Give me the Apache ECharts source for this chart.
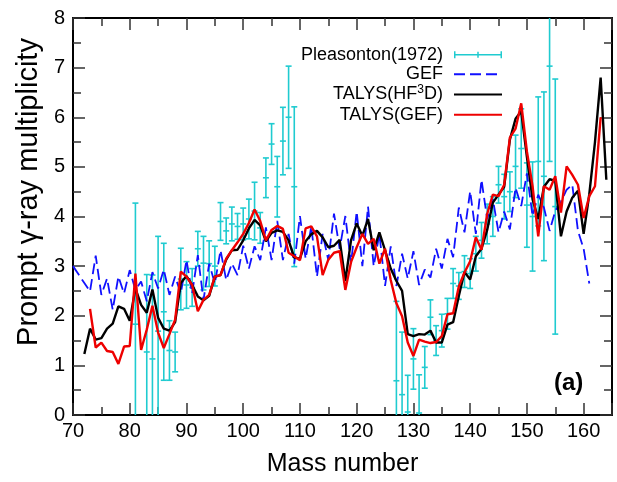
<!DOCTYPE html>
<html><head><meta charset="utf-8">
<script src="https://cdn.jsdelivr.net/npm/echarts@6/dist/echarts.min.js"></script>
<style>html,body{margin:0;padding:0;background:#fff}#c{width:617px;height:482px}</style>
</head><body><div id="c"></div>
<script>
// ---- data ----
const gefMass = [70,71,72,73,74,75,76,77,78,79,80,81,82,83,84,85,86,87,88,89,90,91,92,93,94,95,96,97,98,99,100,101,102,103,104,105,106,107,108,109,110,111,112,113,114,115,116,117,118,119,120,121,122,123,124,125,126,127,128,129,130,131,132,133,134,135,136,137,138,139,140,141,142,143,144,145,146,147,148,149,150,151,152,153,154,155,156,157,158,159,160,161];
const gefValues = [3.0,2.83,2.66,2.49,3.21,2.42,2.75,2.12,2.79,2.45,2.92,2.52,2.69,2.29,2.88,2.55,2.93,2.42,2.79,2.45,3.12,2.45,3.22,2.32,3.05,2.65,3.32,2.72,3.05,2.82,3.41,2.95,3.4,3.12,3.78,3.12,3.91,3.12,3.65,3.05,4.01,3.15,3.8,2.79,3.65,3.12,4.06,3.35,4.01,3.05,4.1,3.0,4.2,3.0,3.65,2.6,3.4,2.6,3.25,2.75,3.3,2.62,2.93,2.77,3.35,2.95,3.55,3.18,4.18,3.68,4.51,3.65,4.74,3.95,4.35,3.68,4.1,3.74,4.58,4.21,4.87,4.01,4.44,4.18,3.71,4.11,4.3,4.54,4.64,3.71,3.35,2.65];

const hf3dMass = [72,73,74,75,76,77,78,79,80,81,82,83,84,85,86,87,88,89,90,91,92,93,94,95,96,97,98,99,100,101,102,103,104,105,106,107,108,109,110,111,112,113,114,115,116,117,118,119,120,121,122,123,124,125,126,127,128,129,130,131,132,133,134,135,136,137,138,139,140,141,142,143,144,145,146,147,148,149,150,151,152,153,154,155,156,157,158,159,160,161,162,163,164];
const hf3dValues = [1.23,1.74,1.52,1.55,1.74,1.84,2.19,2.14,1.9,2.55,2.22,2.06,2.53,1.96,1.74,1.7,1.87,2.66,2.8,2.62,2.39,2.31,2.4,2.79,2.82,3.13,3.32,3.33,3.52,3.76,3.93,3.82,3.5,3.67,3.72,3.69,3.52,3.17,3.15,3.5,3.64,3.71,3.58,3.38,3.41,3.53,2.7,3.52,3.86,3.61,3.95,3.32,3.68,3.32,2.95,2.7,2.5,1.63,1.59,1.63,1.62,1.7,1.46,1.46,1.82,1.87,2.4,2.88,2.73,3.2,3.35,3.73,4.28,4.44,4.6,5.55,5.97,6.12,5.2,4.35,3.95,4.6,4.75,4.72,3.6,4.1,4.38,4.52,3.65,4.45,5.5,6.8,4.74];

const talysGefMass = [73,74,75,76,77,78,79,80,81,82,83,84,85,86,87,88,89,90,91,92,93,94,95,96,97,98,99,100,101,102,103,104,105,106,107,108,109,110,111,112,113,114,115,116,117,118,119,120,121,122,123,124,125,126,127,128,129,130,131,132,133,134,135,136,137,138,139,140,141,142,143,144,145,146,147,148,149,150,151,152,153,154,155,156,157,158,159,160,161,162,163];
const talysGefValues = [2.14,1.36,1.46,1.29,1.27,1.03,1.38,1.39,2.85,1.31,1.72,2.2,1.66,1.35,1.63,1.92,2.89,2.79,2.62,2.09,2.32,2.42,2.79,2.82,3.15,3.32,3.48,3.65,3.87,4.14,3.91,3.52,3.73,3.81,3.75,3.27,3.2,3.12,3.76,3.8,3.6,2.82,3.13,3.27,3.3,2.52,3.08,3.38,3.65,3.45,3.55,3.05,3.35,2.72,2.25,1.99,1.46,1.19,1.52,1.48,1.45,1.47,1.59,2.03,2.05,2.59,2.87,3.1,3.58,3.33,4.05,4.44,4.41,4.64,5.59,5.77,6.28,5.31,4.61,3.6,4.61,4.54,4.81,4.08,5.01,4.84,4.64,3.97,4.41,4.61,6.0];

const expMass   = [81,83,84,85,86,87,88,89,90,91,92,93,94,95,96,97,98,99,100,101,102,103,104,105,106,107,108,109,127,128,129,130,131,132,133,134,135,136,137,138,139,140,141,142,143,144,145,146,147,148,149,150,151,152,153,154,155];
const expValues = [1.83,1.27,1.13,1.69,2.08,1.3,1.27,2.74,2.62,2.57,3.35,3.06,3.05,3.0,3.9,3.71,3.85,3.8,3.85,3.95,4.11,3.77,4.78,5.46,4.6,5.52,6.0,4.6,0.69,0.41,0.06,1.13,0.04,0.96,1.97,1.5,1.7,2.04,2.65,2.6,2.89,2.85,3.25,3.52,3.85,4.0,4.64,4.4,4.5,5.01,5.37,4.23,4.0,5.11,4.81,7.03,4.2];
const expErrors = [2.44,1.56,1.69,1.91,1.38,0.6,0.4,0.62,0.47,0.38,0.35,0.54,0.46,0.4,0.38,0.26,0.34,0.26,0.32,0.4,0.58,0.31,0.4,0.41,0.61,0.68,1.03,1.61,1.6,1.26,0.74,0.61,0.77,0.42,0.35,0.3,0.33,0.31,0.3,0.27,0.32,0.3,0.35,0.36,0.4,0.4,0.37,0.45,0.4,0.63,0.8,0.85,1.1,1.3,1.7,1.92,2.57];

const xTickMin = 70, xTickMax = 165, xTickStep = 10;
const yTickMin = 0, yTickMax = 8, yTickStep = 1;
const seriesNames = ['Pleasonton(1972)', 'GEF', 'TALYS(HF3D)', 'TALYS(GEF)'];
const yTitle = 'Prompt γ-ray multiplicity';

// ---- chart ----
const FONT = 'Liberation Sans, Arial, Helvetica, sans-serif';
const zip = (a, b) => a.map((v, i) => [v, b[i]]);
const CYAN = '#1fcbd0';
const chart = echarts.init(document.getElementById('c'), null, {renderer: 'canvas'});

function axisCommon(showLabel) {
  return {
    axisLine: {show: true, onZero: false, lineStyle: {color: '#000', width: 2}},
    axisTick: {show: true, inside: true, length: 12, lineStyle: {color: '#333', width: 1.5}},
    minorTick: {show: true, splitNumber: 2, length: 8, lineStyle: {color: '#333', width: 1.5}},
    splitLine: {show: false},
    axisLabel: {show: showLabel, color: '#000', fontFamily: FONT, fontSize: 20, showMaxLabel: false},
  };
}

const option = {
  animation: false,
  backgroundColor: '#fff',
  grid: {left: 73, right: 5, top: 18, bottom: 62, containLabel: false},
  xAxis: [
    Object.assign({type: 'value', position: 'bottom', min: xTickMin, max: xTickMax, interval: xTickStep,
      name: 'Mass number', nameLocation: 'middle', nameGap: 37,
      nameTextStyle: {fontFamily: FONT, fontSize: 25, color: '#000'}}, axisCommon(true),
      {axisLabel: {show: true, color: '#000', fontFamily: FONT, fontSize: 20, margin: 6, showMaxLabel: false}}),
    Object.assign({type: 'value', position: 'top', min: xTickMin, max: xTickMax, interval: xTickStep}, axisCommon(false))
  ],
  yAxis: [
    Object.assign({type: 'value', position: 'left', min: yTickMin, max: yTickMax, interval: yTickStep}, axisCommon(true),
      {axisLabel: {show: true, color: '#000', fontFamily: FONT, fontSize: 20, margin: 8}}),
    Object.assign({type: 'value', position: 'right', min: yTickMin, max: yTickMax, interval: yTickStep}, axisCommon(false))
  ],
  legend: {
    orient: 'vertical', right: 109, top: 40, align: 'right',
    itemWidth: 48, itemHeight: 10, itemGap: 0,
    textStyle: {fontFamily: FONT, fontSize: 18, color: '#000', lineHeight: 19.5, padding: [0, 6, 0, 0],
      rich: {sup: {fontFamily: FONT, fontSize: 12, lineHeight: 19.5, color: '#000', padding: [0, 0, 9, 0]}}},
    formatter: n => n === 'TALYS(HF3D)' ? 'TALYS(HF{sup|3}D)' : n,
    data: [
      {name: seriesNames[0], icon: 'path://M0,4.25h48v1.5h-48z M0,1.5h1.5v7h-1.5z M46.5,1.5h1.5v7h-1.5z M23.25,2h1.5v6h-1.5z'},
      {name: seriesNames[1], itemStyle: {opacity: 0}},
      {name: seriesNames[2], itemStyle: {opacity: 0}},
      {name: seriesNames[3], itemStyle: {opacity: 0}}
    ]
  },
  graphic: [
    {type: 'text', left: 554, top: 371, style: {text: '(a)', font: 'bold 24px ' + FONT, fill: '#000'}},
    {type: 'text', x: 29, y: 192, rotation: Math.PI / 2,
      style: {text: yTitle, font: '29px ' + FONT, fill: '#000', textAlign: 'center', textVerticalAlign: 'middle'}}
  ],
  series: [
    {
      name: seriesNames[0], type: 'custom', xAxisIndex: 0, yAxisIndex: 0,
      itemStyle: {color: CYAN},
      data: expMass.map((m, i) => [m, expValues[i], expErrors[i]]),
      encode: {x: 0, y: 1},
      renderItem: function (params, api) {
        const x = api.value(0), y = api.value(1), e = api.value(2);
        const cs = params.coordSys;
        const top = cs.y, bot = cs.y + cs.height;
        const pC = api.coord([x, y]);
        const pH = api.coord([x, y + e]);
        const pL = api.coord([x, y - e]);
        const st = {stroke: CYAN, lineWidth: 1.6};
        const yH = Math.max(pH[1], top), yL = Math.min(pL[1], bot);
        const ch = [{type: 'line', shape: {x1: pC[0], y1: yH, x2: pC[0], y2: yL}, style: st}];
        if (pH[1] >= top) ch.push({type: 'line', shape: {x1: pC[0] - 3, y1: pH[1], x2: pC[0] + 3, y2: pH[1]}, style: st});
        if (pL[1] <= bot) ch.push({type: 'line', shape: {x1: pC[0] - 3, y1: pL[1], x2: pC[0] + 3, y2: pL[1]}, style: st});
        if (pC[1] >= top && pC[1] <= bot) ch.push({type: 'line', shape: {x1: pC[0] - 3, y1: pC[1], x2: pC[0] + 3, y2: pC[1]}, style: st});
        return {type: 'group', children: ch};
      },
      z: 1
    },
    {name: seriesNames[1], type: 'line', data: zip(gefMass, gefValues), symbol: 'none', showSymbol: false,
      lineStyle: {color: '#1010ff', width: 1.8, type: [11, 5]}, itemStyle: {color: '#1010ff'}, z: 2},
    {name: seriesNames[2], type: 'line', data: zip(hf3dMass, hf3dValues), symbol: 'none', showSymbol: false,
      lineStyle: {color: '#000', width: 2.4}, itemStyle: {color: '#000'}, z: 3},
    {name: seriesNames[3], type: 'line', data: zip(talysGefMass, talysGefValues), symbol: 'none', showSymbol: false,
      lineStyle: {color: '#ee0000', width: 2.4}, itemStyle: {color: '#ee0000'}, z: 4}
  ]
};
chart.setOption(option);
</script>
</body></html>
